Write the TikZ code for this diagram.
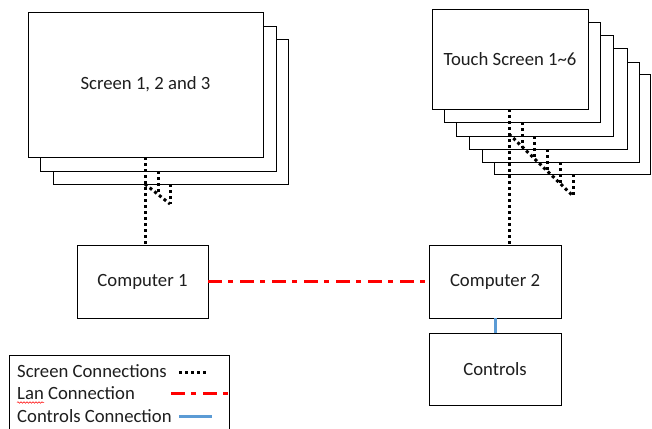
\documentclass[tikz,border=0pt]{standalone}
\usepackage{fontspec}
\setmainfont{Carlito}
\usetikzlibrary{decorations.pathmorphing}
\definecolor{ctrlblue}{RGB}{91,155,213}
\definecolor{txt}{RGB}{30,30,30}
\begin{document}
\begin{tikzpicture}[x=1pt,y=-1pt,
  box/.style={draw=black,line width=0.9pt,fill=white,inner sep=0pt,font=\fontsize{18.7}{22}\selectfont,text=txt},
  scr/.style={line width=3pt,dash pattern=on 3pt off 3pt,black},
  lan/.style={line width=3pt,red,dash pattern=on 14pt off 6pt on 5pt off 7pt},
  ctrl/.style={line width=3pt,ctrlblue},
  lbl/.style={font=\fontsize{18.7}{22}\selectfont,text=txt,inner sep=0pt,anchor=west}]
\useasboundingbox (0,0) rectangle (652,428);
\fill[white] (0,0) rectangle (652,428);

% left stack of screens (back to front)
\node[box,minimum width=235pt,minimum height=145pt] (ls3) at (170.5,111.5) {};
\node[box,minimum width=236pt,minimum height=145pt] (ls2) at (158,98.5) {};
\node[box,minimum width=235pt,minimum height=145pt] (ls1) at (145.5,84.5) {Screen 1, 2 and 3};

% right stack of touch screens (back to front)
\node[box,minimum width=156pt,minimum height=100pt] (rs6) at (572,124) {};
\node[box,minimum width=157pt,minimum height=100pt] (rs5) at (560.5,112) {};
\node[box,minimum width=158pt,minimum height=101pt] (rs4) at (548,98.5) {};
\node[box,minimum width=157pt,minimum height=101pt] (rs3) at (534.5,85.5) {};
\node[box,minimum width=156pt,minimum height=100pt] (rs2) at (522,72) {};
\node[box,minimum width=156pt,minimum height=100pt] (rs1) at (510,59) {Touch Screen 1\textasciitilde 6};

% computers and controls
\node[box,minimum width=131pt,minimum height=73pt] (c1) at (142.5,281.5) {Computer 1};
\node[box,minimum width=132pt,minimum height=73pt] (c2) at (495,281.5) {Computer 2};
\node[box,minimum width=132pt,minimum height=72pt] (ctl) at (495,369) {Controls};

% left screen connections
\coordinate (la) at (145,184);
\coordinate (lb) at (170,204);
\draw[scr] (ls1.south -| 145,0) -- (c1.north -| 145,0);
\draw[scr] (la) -- (lb);
\draw[scr] (ls2.south -| 158,0) -- (158,194.4);
\draw[scr] (ls3.south -| 170,0) -- (lb);

% right screen connections
\coordinate (ra) at (509,134);
\coordinate (rb) at (573,196);
\draw[scr] (rs1.south -| 509,0) -- (c2.north -| 509,0);
\draw[scr] (ra) -- (rb);
\draw[scr] (rs2.south -| 522,0) -- (522,146.6);
\draw[scr] (rs3.south -| 534,0) -- (534,158.2);
\draw[scr] (rs4.south -| 547,0) -- (547,170.8);
\draw[scr] (rs5.south -| 560,0) -- (560,183.4);
\draw[scr] (rs6.south -| 573,0) -- (rb);

% LAN and controls
\draw[lan] (c1.east) -- (c2.west);
\draw[ctrl] (c2.south) -- (ctl.north);

% legend
\draw[line width=0.9pt] (9,430) -- (9,355) -- (229,355) -- (229,430);
\node[lbl] (l1) at (17,371) {Screen Connections};
\node[lbl] (l2) at (17,393) {Lan Connection};
\node[lbl] (l3) at (17,416) {Controls Connection};
\coordinate (s1a) at (179,372); \coordinate (s1b) at (208,372);
\coordinate (s2a) at (171,393); \coordinate (s2b) at (229,393);
\coordinate (s3a) at (179,416); \coordinate (s3b) at (212,416);
\draw[scr] (s1a) -- (s1b);
\draw[lan] (s2a) -- (s2b);
\draw[ctrl] (s3a) -- (s3b);
\draw[red,line width=0.5pt,decorate,decoration={snake,amplitude=0.8pt,segment length=3pt}] (17,402.5) -- (44,402.5);
\end{tikzpicture}
\end{document}
